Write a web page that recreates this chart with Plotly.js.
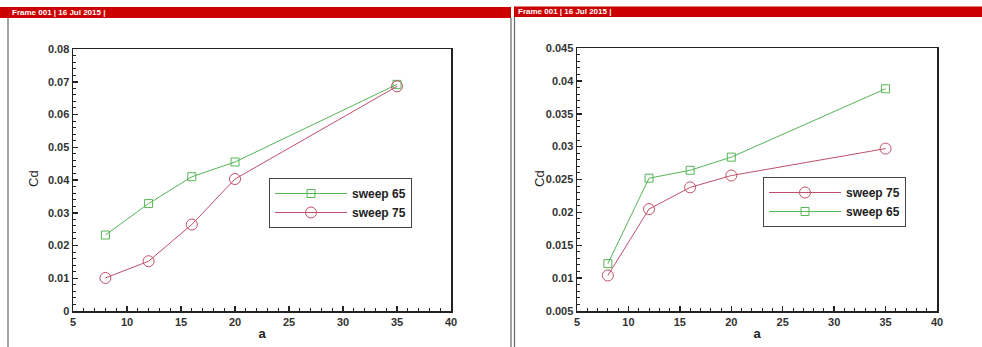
<!DOCTYPE html>
<html>
<head>
<meta charset="utf-8">
<script src="https://cdn.plot.ly/plotly-3.0.1.min.js"></script>
<style>
  html, body { margin: 0; padding: 0; background: #fff; }
  #chart { width: 982px; height: 347px; }
</style>
</head>
<body>
<div id="chart"></div>
<script>
// Angle of attack (x values)
const alpha = [8, 12, 16, 20, 35];

// Left panel
const leftSweep65 = [0.0232, 0.0328, 0.0410, 0.0455, 0.0692];
const leftSweep75 = [0.0101, 0.0152, 0.0264, 0.0403, 0.0686];

// Right panel
const rightSweep75 = [0.0104, 0.0205, 0.0238, 0.0256, 0.0297];
const rightSweep65 = [0.0122, 0.0252, 0.0264, 0.0284, 0.0388];

const seriesNames = ['sweep 65', 'sweep 75'];
const headerText = 'Frame 001 | 16 Jul 2015 |';
const xTitle = 'a';
const yTitle = 'Cd';

const W = 982, H = 347;
const px = v => v / W;
const py = v => 1 - v / H;

const green = '#55b655';
const red = '#c0506a';
const fontFam = 'Arial, "Liberation Sans", sans-serif';

function tr65(x, y, xa, ya, leg) {
  return {
    x: x, y: y, xaxis: xa, yaxis: ya, legend: leg,
    name: seriesNames[0], type: 'scatter', mode: 'lines+markers',
    line: {color: green, width: 1},
    marker: {symbol: 'square-open', size: 8, color: green, line: {width: 1, color: green}}
  };
}
function tr75(x, y, xa, ya, leg) {
  return {
    x: x, y: y, xaxis: xa, yaxis: ya, legend: leg,
    name: seriesNames[1], type: 'scatter', mode: 'lines+markers',
    line: {color: red, width: 1},
    marker: {symbol: 'circle-open', size: 11, color: red, line: {width: 1, color: red}}
  };
}

const data = [
  tr65(alpha, leftSweep65, 'x', 'y', 'legend'),
  tr75(alpha, leftSweep75, 'x', 'y', 'legend'),
  tr75(alpha, rightSweep75, 'x2', 'y2', 'legend2'),
  tr65(alpha, rightSweep65, 'x2', 'y2', 'legend2')
];

const tickFont = {family: fontFam, size: 11, color: '#333', weight: 'bold'};

function xAxis(domain, anchor) {
  return {
    domain: domain, anchor: anchor, range: [5, 40], dtick: 5, tick0: 5,
    ticks: 'inside', ticklen: 5, tickwidth: 1.5, tickcolor: '#222',
    minor: {ticks: 'inside', dtick: 1, ticklen: 3, tickwidth: 1, tickcolor: '#222'},
    showline: true, linecolor: '#222', linewidth: 1.5, mirror: true,
    showgrid: false, zeroline: false, tickfont: tickFont,
    title: {text: xTitle, font: {family: fontFam, size: 13, color: '#222', weight: 'bold'}, standoff: 2}
  };
}
function yAxis(domain, anchor, range, dtick, minorDtick) {
  return {
    domain: domain, anchor: anchor, range: range, dtick: dtick, tick0: range[0],
    ticks: 'inside', ticklen: 5, tickwidth: 1.5, tickcolor: '#222',
    minor: {ticks: 'inside', dtick: minorDtick, ticklen: 3, tickwidth: 1, tickcolor: '#222'},
    showline: true, linecolor: '#222', linewidth: 1.5, mirror: true,
    showgrid: false, zeroline: false, tickfont: tickFont
  };
}

const legendFont = {family: fontFam, size: 12, color: '#222', weight: 'bold'};

const layout = {
  width: W, height: H,
  margin: {l: 0, r: 0, t: 0, b: 0},
  paper_bgcolor: '#fff', plot_bgcolor: '#fff',
  showlegend: true,
  xaxis: xAxis([px(73), px(451)], 'y'),
  yaxis: yAxis([py(311), py(49)], 'x', [0, 0.08], 0.01, 0.002),
  xaxis2: xAxis([px(577), px(937)], 'y2'),
  yaxis2: yAxis([py(311), py(48)], 'x2', [0.005, 0.045], 0.005, 0.001),
  legend: {
    x: px(269), y: py(178), xanchor: 'left', yanchor: 'top',
    bgcolor: '#fff', bordercolor: '#444', borderwidth: 1,
    font: legendFont, itemwidth: 72, tracegroupgap: 0
  },
  legend2: {
    x: px(763), y: py(177), xanchor: 'left', yanchor: 'top',
    bgcolor: '#fff', bordercolor: '#444', borderwidth: 1,
    font: legendFont, itemwidth: 72, tracegroupgap: 0
  },
  shapes: [
    {type: 'rect', xref: 'paper', yref: 'paper', x0: 0, x1: px(511), y0: py(18), y1: py(7), fillcolor: '#cc0000', line: {width: 0}, layer: 'above'},
    {type: 'rect', xref: 'paper', yref: 'paper', x0: px(514), x1: 1, y0: py(17), y1: py(6.5), fillcolor: '#cc0000', line: {width: 0}, layer: 'above'},
    {type: 'line', xref: 'paper', yref: 'paper', x0: px(8), x1: px(8), y0: 0, y1: py(18), line: {color: '#666', width: 1.2}},
    {type: 'line', xref: 'paper', yref: 'paper', x0: px(511), x1: px(511), y0: 0, y1: py(18), line: {color: '#666', width: 1.2}},
    {type: 'line', xref: 'paper', yref: 'paper', x0: px(514.5), x1: px(514.5), y0: 0, y1: py(17), line: {color: '#666', width: 1.2}}
  ],
  annotations: [
    {xref: 'paper', yref: 'paper', x: px(10), y: py(12.5), xanchor: 'left', yanchor: 'middle', showarrow: false,
     text: headerText, font: {family: fontFam, size: 8, color: '#fff', weight: 'bold'}},
    {xref: 'paper', yref: 'paper', x: px(516), y: py(11.5), xanchor: 'left', yanchor: 'middle', showarrow: false,
     text: headerText, font: {family: fontFam, size: 8, color: '#fff', weight: 'bold'}},
    {xref: 'paper', yref: 'paper', x: px(34), y: py(179), xanchor: 'center', yanchor: 'middle', showarrow: false,
     textangle: -90, text: yTitle, font: {family: fontFam, size: 13, color: '#222'}},
    {xref: 'paper', yref: 'paper', x: px(540), y: py(179), xanchor: 'center', yanchor: 'middle', showarrow: false,
     textangle: -90, text: yTitle, font: {family: fontFam, size: 13, color: '#222'}}
  ]
};

Plotly.newPlot('chart', data, layout, {displayModeBar: false, staticPlot: true});
</script>
</body>
</html>
